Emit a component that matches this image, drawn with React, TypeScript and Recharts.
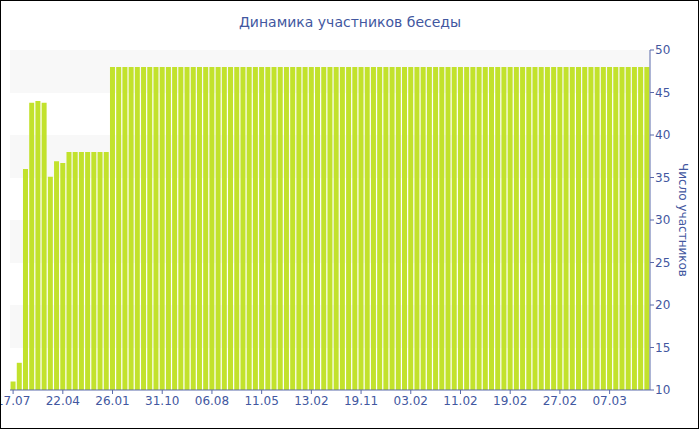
import React from 'react';
import { BarChart, Bar, XAxis, YAxis, CartesianGrid } from 'recharts';

const title = 'Динамика участников беседы';
const yAxisTitle = 'Число участников';

// participants per period (103 periods)
const earlyValues = [11, 13.2, 36, 43.8, 44, 43.8, 35.1, 36.9, 36.7];
const plateau38 = [38, 38, 38, 38, 38, 38, 38];
const plateau48Count = 87;
const plateau48Value = 48;

// tick labels shown every 8th period
const tickLabels = ['17.07', '22.04', '26.01', '31.10', '06.08', '11.05', '13.02', '19.11', '03.02', '11.02', '19.02', '27.02', '07.03'];
const yTicks = [10, 15, 20, 25, 30, 35, 40, 45, 50];

const values: number[] = [
  ...earlyValues,
  ...plateau38,
  ...Array.from({ length: plateau48Count }, () => plateau48Value),
];

const data = values.map((v, i) => ({ idx: i, members: v }));

const BLUE = '#4257a0';
const AXIS = '#5a6aab';
const FONT = 'DejaVu Sans, Verdana, sans-serif';

export default function App() {
  return (
    <div style={{ position: 'relative', width: 700, height: 430, background: '#fff' }}>
      <style>{`body{margin:0;}`}</style>
      <BarChart
        width={700}
        height={430}
        data={data}
        margin={{ top: 50, right: 0, bottom: 0, left: 10 }}
        barCategoryGap="9%"
      >
        <text x={350} y={27} textAnchor="middle" fill={BLUE} fontFamily={FONT} fontSize={14}>
          {title}
        </text>
        <CartesianGrid
          vertical={false}
          stroke="none"
          horizontalFill={['#f8f8f8', '#ffffff']}
          fillOpacity={1}
        />
        <XAxis
          dataKey="idx"
          interval={7}
          tickFormatter={(v: number) => tickLabels[Math.round(v / 8)] ?? ''}
          stroke={AXIS}
          tickLine={{ stroke: AXIS }}
          tickSize={4}
          tick={{ fill: BLUE, fontFamily: FONT, fontSize: 12 }}
          height={40}
        />
        <YAxis
          orientation="right"
          domain={[10, 50]}
          ticks={yTicks}
          allowDataOverflow
          stroke={AXIS}
          tickLine={{ stroke: AXIS }}
          tickSize={4}
          tickMargin={1}
          width={50}
          tick={{ fill: BLUE, fontFamily: FONT, fontSize: 12 }}
          label={({ viewBox }: any) => {
            const cx = viewBox.x + 33;
            const cy = viewBox.y + viewBox.height / 2;
            return (
              <text
                x={cx}
                y={cy}
                transform={`rotate(90 ${cx} ${cy})`}
                textAnchor="middle"
                dominantBaseline="central"
                fill={BLUE}
                fontFamily={FONT}
                fontSize={12}
              >
                {yAxisTitle}
              </text>
            );
          }}
        />
        <Bar dataKey="members" fill="#c2e22c" isAnimationActive={false} />
      </BarChart>
      <div
        style={{
          position: 'absolute',
          left: 0,
          top: 0,
          width: 699,
          height: 429,
          border: '1px solid #000',
          boxSizing: 'border-box',
          pointerEvents: 'none',
        }}
      />
    </div>
  );
}
